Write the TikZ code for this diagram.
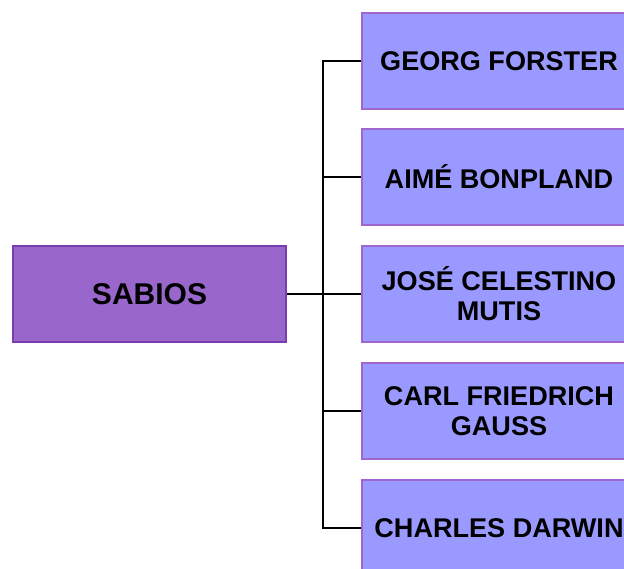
\documentclass[tikz,border=0pt]{standalone}
\usepackage{fontspec}
\setmainfont{Liberation Sans}
\usepackage{tikz}
\definecolor{sabiofill}{HTML}{9966CC}
\definecolor{sabioline}{HTML}{7A3DB0}
\definecolor{namefill}{HTML}{9999FF}
\definecolor{nameline}{HTML}{A066D0}
\tikzset{
  namebox/.style={rectangle,draw=nameline,fill=namefill,line width=1.5pt,
    minimum width=205pt,minimum height=72pt,inner sep=0pt,align=center,
    font=\fontsize{20.3}{22.5}\selectfont\bfseries},
  link/.style={draw=black,line width=2.2pt}
}
\def\sabionode{\node[namebox,draw=sabioline,fill=sabiofill,font=\fontsize{22.5}{25}\selectfont\bfseries]}
\def\namenode{\node[namebox]}

\begin{document}
\begin{tikzpicture}[x=0.75pt,y=-0.75pt]
\useasboundingbox (0,0) rectangle (624,568);
\clip (0,0) rectangle (624,568);
\sabionode (sabios) at (149.5,294) {SABIOS};
\namenode (forster) at (499,61) {GEORG FORSTER};
\namenode (bonpland) at (499,177) {AIMÉ BONPLAND};
\namenode (mutis) at (499,294) {JOSÉ CELESTINO\\MUTIS};
\namenode (gauss) at (499,411) {CARL FRIEDRICH\\GAUSS};
\namenode (darwin) at (499,528) {CHARLES DARWIN};
\coordinate (fork) at (323,294);
\draw[link] (sabios.east) -- (fork);
\foreach \n in {forster,bonpland,mutis,gauss,darwin}
  \draw[link] (fork) |- (\n.west);
\end{tikzpicture}
\end{document}
